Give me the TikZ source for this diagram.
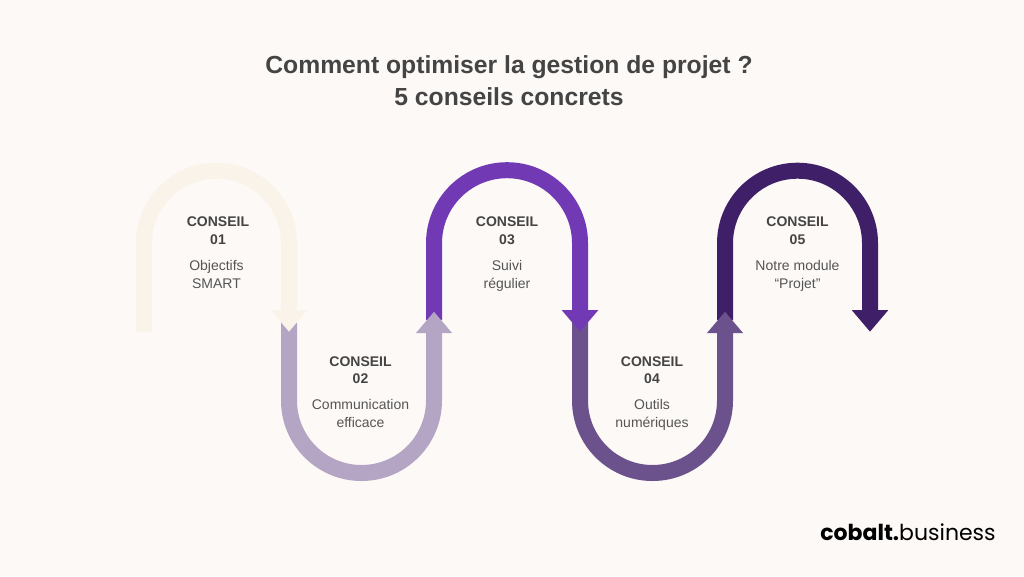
\documentclass[tikz,border=0pt]{standalone}
\usepackage{fontspec}
\setmainfont{Liberation Sans}
\newfontfamily\logofont{Poppins}
\usetikzlibrary{arrows.meta}
\definecolor{paper}{HTML}{FDF9F6}
\definecolor{ink}{HTML}{444444}
\definecolor{inksoft}{HTML}{555555}
\definecolor{step1}{HTML}{FAF3E9}
\definecolor{step2}{HTML}{B3A5C3}
\definecolor{step3}{HTML}{7239B5}
\definecolor{step4}{HTML}{6B528C}
\definecolor{step5}{HTML}{3E1F68}
\tikzstyle{band}=[line width=16pt,-{Triangle[width=35pt,length=21.5pt]}]
\tikzstyle{title}=[text=ink,align=center,font=\bfseries\fontsize{24.7}{32}\selectfont]
\tikzstyle{head}=[text=ink,align=center,font=\bfseries\fontsize{14}{17.5}\selectfont]
\tikzstyle{body}=[text=inksoft,align=center,font=\fontsize{14}{18}\selectfont]
\begin{document}
\begin{tikzpicture}[x=1pt,y=-1pt]
      \fill[paper] (0,0) rectangle (1024,576);
      \useasboundingbox (0,0) rectangle (1024,576);
      \coordinate (a1) at (144,331.7);
      \coordinate (b1) at (289,331.7);
      \coordinate (a2) at (289,320);
      \coordinate (b2) at (434,311.7);
      \coordinate (a3) at (434,320);
      \coordinate (b3) at (580,331.7);
      \coordinate (a4) at (580,320);
      \coordinate (b4) at (725,311.7);
      \coordinate (a5) at (725,320);
      \coordinate (b5) at (870,331.7);
      \draw[band,draw=step5] (a5)--(725,243.2) arc[start angle=180,end angle=360,radius=72.5]--(b5);
      \draw[band,draw=step4] (a4)--(580,400.5) arc[start angle=180,end angle=0,radius=72.5]--(b4);
      \draw[band,draw=step3] (a3)--(434,243.2) arc[start angle=180,end angle=360,radius=73]--(b3);
      \draw[band,draw=step2] (a2)--(289,400.5) arc[start angle=180,end angle=0,radius=72.5]--(b2);
      \draw[band,draw=step1] (a1)--(144,243.2) arc[start angle=180,end angle=360,radius=72.5]--(b1);
      \node[title] at (509,80.5) (heading) {Comment optimiser la gestion de projet ?\\5 conseils concrets};
      \node[head] at (218,230.5) (h1) {CONSEIL\\01};
      \node[body] at (216.5,274) (t1) {Objectifs\\SMART};
      \node[head] at (360.5,370) (h2) {CONSEIL\\02};
      \node[body] at (360.5,413) (t2) {Communication\\efficace};
      \node[head] at (507,230.5) (h3) {CONSEIL\\03};
      \node[body] at (507,275.5) (t3) {Suivi\\régulier};
      \node[head] at (652,370) (h4) {CONSEIL\\04};
      \node[body] at (652,414.5) (t4) {Outils\\numériques};
      \node[head] at (797.5,230.5) (h5) {CONSEIL\\05};
      \node[body] at (797.5,275.5) (t5) {Notre module\\“Projet”};
      \node[text=black,font=\logofont\fontsize{22}{26}\selectfont] at (908,532) (logo) {\textbf{cobalt.}business};
    \end{tikzpicture}
\end{document}
